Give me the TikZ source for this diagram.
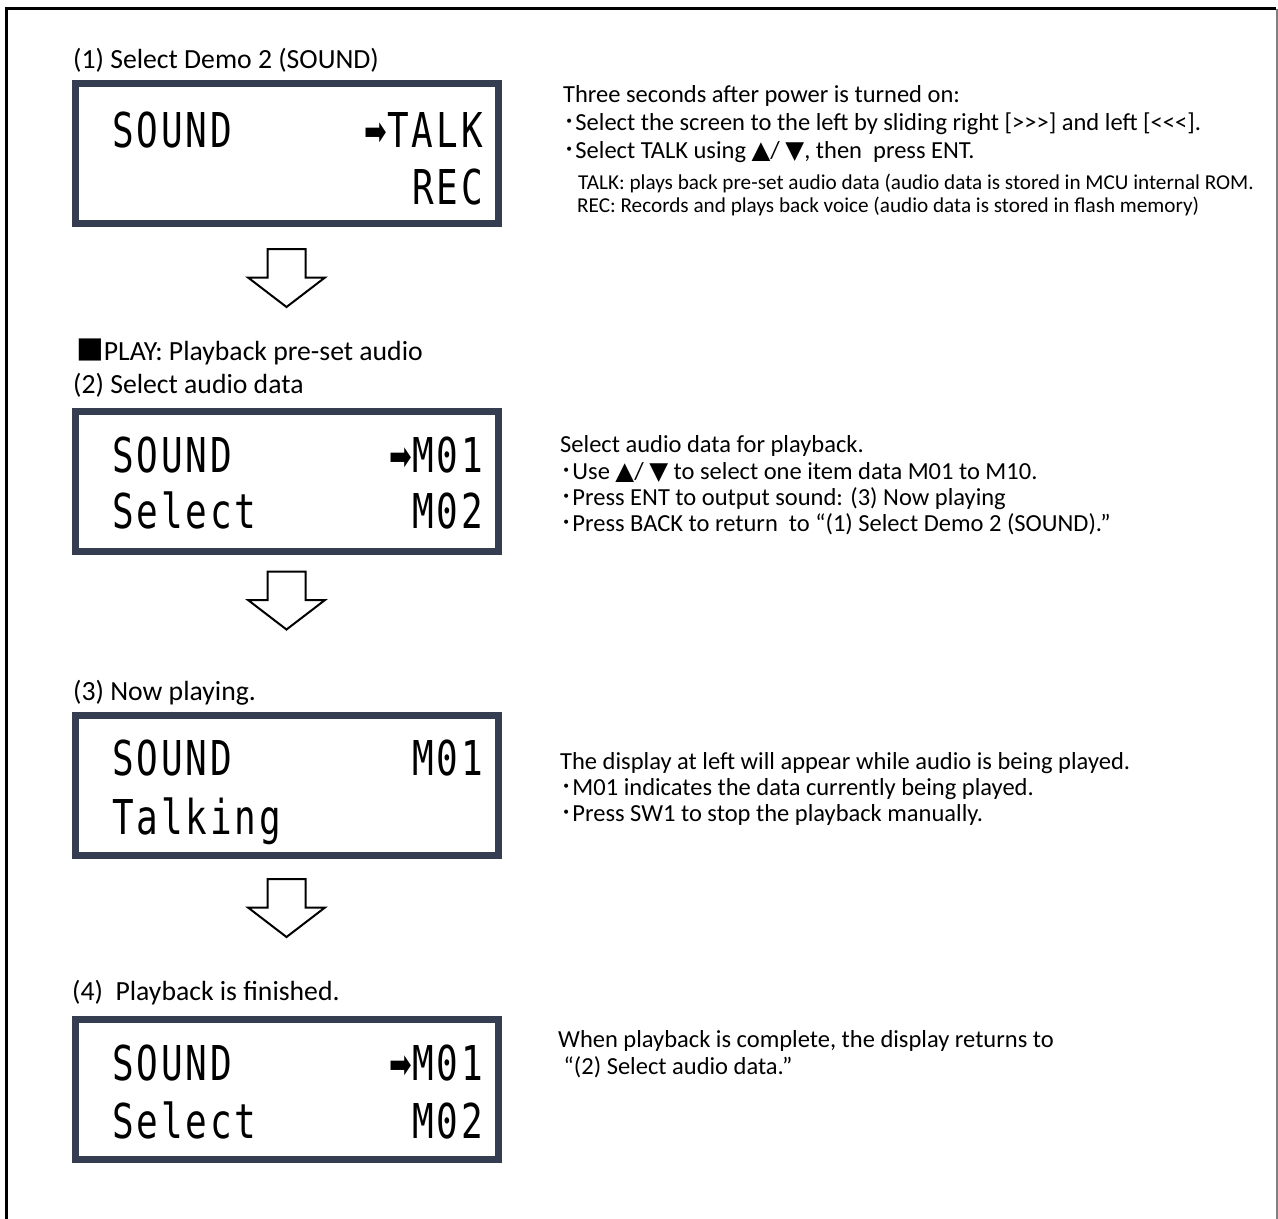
\documentclass[tikz,border=0pt]{standalone}
\usepackage{fontspec}
\usepackage{graphicx}
\setmainfont{Carlito}[Ligatures=TeXOff]
\newfontfamily\lcdfont[FakeStretch=0.75, LetterSpace=6]{DejaVu Sans Mono}
\newfontfamily\symfont{DejaVu Sans}
\newfontfamily\cjkfont{Noto Sans CJK JP}
\usetikzlibrary{positioning}
\definecolor{lcdframe}{RGB}{52,62,80}
\newcommand{\dotmark}{{\cjkfont ･}}
\newcommand{\arrowkeys}{{\symfont ▲}/ {\symfont ▼}}
\newcommand{\lcdarrow}{\raisebox{2pt}{\scalebox{0.9}[1.35]{\symfont\fontsize{30}{30}\selectfont ➡}}}

\begin{document}
\begin{tikzpicture}[x=1pt,y=-1pt]
 \tikzset{
 	lcd/.style={draw=lcdframe, line width=7pt,
 		minimum width=423pt, minimum height=140pt, inner sep=0pt},
 	lcdtext/.style={font=\lcdfont\fontsize{48}{48}\selectfont, inner sep=0pt},
 	heading/.style={font=\fontsize{27.7}{32}\selectfont, anchor=base west, inner sep=0pt},
 	note/.style={font=\fontsize{24.5}{27}\selectfont, anchor=base west, inner sep=0pt},
 	smallnote/.style={font=\fontsize{21.2}{22}\selectfont, anchor=base west, inner sep=0pt},
 	downarrow/.style={draw=black, line width=2pt, fill=white, line join=miter}
 }
 \useasboundingbox (0,0) rectangle (1278,1219);
 % outer frame
 \draw[line width=3.5pt] (6.5,1230) -- (6.5,8.5) -- (1276,8.5);
 \draw[gray, line width=1.2pt] (1277,8.5) -- (1277,1230);

 % (1) select demo
 \node[heading] (head1) at (73,68) {(1) Select Demo 2 (SOUND)};
 \node[lcd] (screen1) at (287,153.5) {};
 \node[lcdtext, anchor=base west] (s1left) at (112,147) {SOUND};
 \node[lcdtext, anchor=base east] (s1talk) at (483,147) {\lcdarrow TALK};
 \node[lcdtext, anchor=base east] (s1rec) at (483,204) {REC};
 \node[note] (t1a) at (563,102) {Three seconds after power is turned on:};
 \node[note] (t1b) at (563,130) {\dotmark Select the screen to the left by sliding right [>>>] and left [<<<].};
 \node[note] (t1c) at (563,158) {\dotmark Select TALK using \arrowkeys, then~ press ENT.};
 \node[smallnote] (t1d) at (578,189) {TALK: plays back pre-set audio data (audio data is stored in MCU internal ROM.};
 \node[smallnote] (t1e) at (577,212) {REC: Records and plays back voice (audio data is stored in flash memory)};

 % block arrows between the screens
 \foreach \t in {249,571.5,879}
 	\draw[downarrow] (267.5,\t) -- ++(38,0) -- ++(0,28.5) -- ++(19.5,0)
 		-- ++(-38.5,29.5) -- ++(-38.5,-29.5) -- ++(19.5,0) -- cycle;

 % (2) select audio data
 \node[heading] (play) at (76,360) {{\cjkfont ■}PLAY: Playback pre-set audio};
 \node[heading] (head2) at (73,393) {(2) Select audio data};
 \node[lcd] (screen2) at (287,481) {};
 \node[lcdtext, anchor=base west] (s2left) at (112,472) {SOUND};
 \node[lcdtext, anchor=base east] (s2right) at (483,472) {\lcdarrow M01};
 \node[lcdtext, anchor=base west] (s2sel) at (112,528) {Select};
 \node[lcdtext, anchor=base east] (s2next) at (483,528) {M02};
 \node[note] (t2a) at (560,452) {Select audio data for playback.};
 \node[note] (t2b) at (560,479) {\dotmark Use \arrowkeys\ to select one item data M01 to M10.};
 \node[note] (t2c) at (560,505) {\dotmark Press ENT to output sound: (3) Now playing};
 \node[note] (t2d) at (560,531) {\dotmark Press BACK to return~ to “(1) Select Demo 2 (SOUND).”};

 % (3) now playing
 \node[heading] (head3) at (73,700) {(3) Now playing.};
 \node[lcd] (screen3) at (287,785) {};
 \node[lcdtext, anchor=base west] (s3left) at (112,775) {SOUND};
 \node[lcdtext, anchor=base east] (s3right) at (483,775) {M01};
 \node[lcdtext, anchor=base west] (s3talk) at (112,834) {Talking};
 \node[note] (t3a) at (560,769) {The display at left will appear while audio is being played.};
 \node[note] (t3b) at (560,795) {\dotmark M01 indicates the data currently being played.};
 \node[note] (t3c) at (560,821) {\dotmark Press SW1 to stop the playback manually.};

 % (4) playback finished
 \node[heading] (head4) at (72,1000) {(4)~~Playback is finished.};
 \node[lcd] (screen4) at (287,1089) {};
 \node[lcdtext, anchor=base west] (s4left) at (112,1080) {SOUND};
 \node[lcdtext, anchor=base east] (s4right) at (483,1080) {\lcdarrow M01};
 \node[lcdtext, anchor=base west] (s4sel) at (112,1138) {Select};
 \node[lcdtext, anchor=base east] (s4next) at (483,1138) {M02};
 \node[note] (t4a) at (558,1047) {When playback is complete, the display returns to};
 \node[note] (t4b) at (558,1074) {~“(2) Select audio data.”};
\end{tikzpicture}
\end{document}
